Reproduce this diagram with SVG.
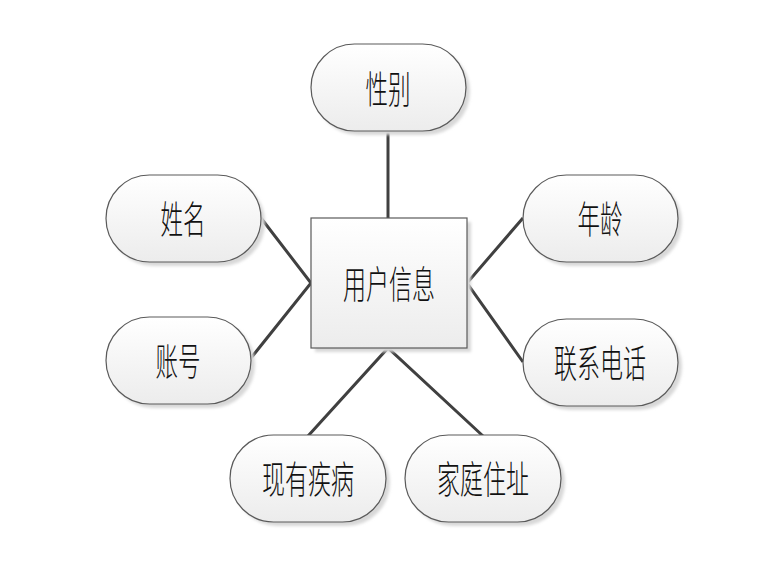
<svg xmlns="http://www.w3.org/2000/svg" width="771" height="582" viewBox="0 0 771 582">
<defs>
<linearGradient id="g" x1="0" y1="0" x2="0" y2="1">
<stop offset="0" stop-color="#ffffff"/>
<stop offset="1" stop-color="#ececec"/>
</linearGradient>
<filter id="sh" x="-10%" y="-10%" width="130%" height="130%">
<feGaussianBlur stdDeviation="1.5"/>
</filter>
</defs>
<style>
.shadow{fill:#d8d8d8;filter:url(#sh)}
.box{fill:url(#g);stroke:#5a5a5a;stroke-width:1.2}
.t{font-family:"Noto Sans CJK SC","Liberation Serif",serif;font-size:38px;font-weight:300;fill:#111;text-anchor:middle;dominant-baseline:central}
.c{stroke:#404040;stroke-width:3;fill:none}
</style>
<rect width="771" height="582" fill="#ffffff"/>
<g id="connectors">
<line class="c" x1="388" y1="131" x2="388" y2="218"/>
<polyline class="c" points="261,218 311,283 251,358"/>
<polyline class="c" points="523,218 467,283 523,362"/>
<polyline class="c" points="308,436 388,348 483,436"/>
</g>
<g id="center">
<rect class="shadow" x="315" y="222" width="156" height="130"/>
<rect class="box" x="311" y="218" width="156" height="130"/>
<text class="t" x="389" y="281" textLength="92" lengthAdjust="spacingAndGlyphs">用户信息</text>
</g>
<g id="xingbie">
<rect class="shadow" x="315" y="48" width="155" height="87" rx="43.5"/>
<rect class="box" x="311" y="44" width="155" height="87" rx="43.5"/>
<text class="t" x="388" y="86" textLength="45" lengthAdjust="spacingAndGlyphs">性别</text>
</g>
<g id="xingming">
<rect class="shadow" x="110" y="179" width="155" height="87" rx="43.5"/>
<rect class="box" x="106" y="175" width="155" height="87" rx="43.5"/>
<text class="t" x="183" y="216" textLength="45" lengthAdjust="spacingAndGlyphs">姓名</text>
</g>
<g id="zhanghao">
<rect class="shadow" x="110" y="321" width="145" height="87" rx="43.5"/>
<rect class="box" x="106" y="317" width="145" height="87" rx="43.5"/>
<text class="t" x="178" y="358" textLength="45" lengthAdjust="spacingAndGlyphs">账号</text>
</g>
<g id="nianling">
<rect class="shadow" x="527" y="179" width="155" height="87" rx="43.5"/>
<rect class="box" x="523" y="175" width="155" height="87" rx="43.5"/>
<text class="t" x="600" y="216" textLength="45" lengthAdjust="spacingAndGlyphs">年龄</text>
</g>
<g id="lianxidianhua">
<rect class="shadow" x="527" y="323" width="155" height="87" rx="43.5"/>
<rect class="box" x="523" y="319" width="155" height="87" rx="43.5"/>
<text class="t" x="600" y="360" textLength="92" lengthAdjust="spacingAndGlyphs">联系电话</text>
</g>
<g id="xianyoujibing">
<rect class="shadow" x="234" y="439" width="156" height="87" rx="43.5"/>
<rect class="box" x="230" y="435" width="156" height="87" rx="43.5"/>
<text class="t" x="308" y="476" textLength="92" lengthAdjust="spacingAndGlyphs">现有疾病</text>
</g>
<g id="jiatingzhuzhi">
<rect class="shadow" x="409" y="439" width="156" height="87" rx="43.5"/>
<rect class="box" x="405" y="435" width="156" height="87" rx="43.5"/>
<text class="t" x="483" y="476" textLength="92" lengthAdjust="spacingAndGlyphs">家庭住址</text>
</g>
</svg>
